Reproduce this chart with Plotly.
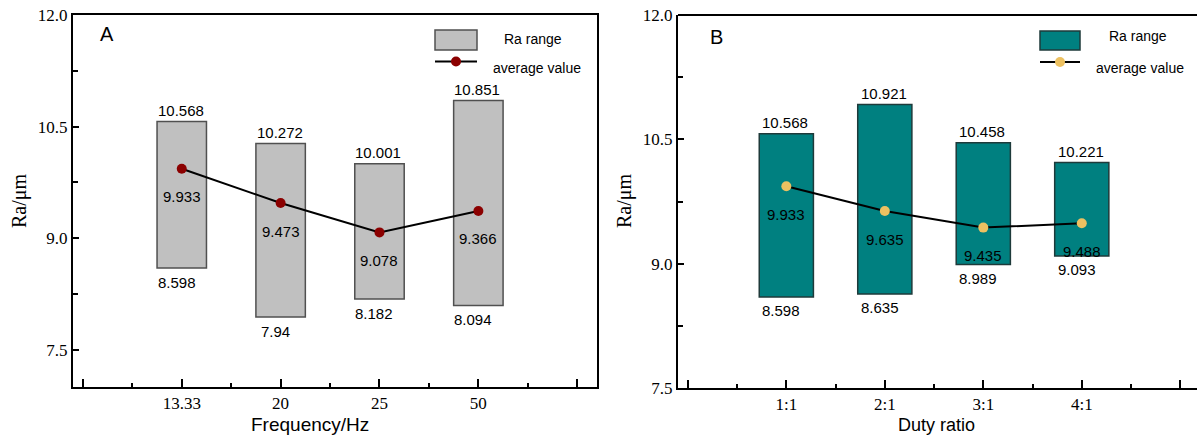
import plotly.graph_objects as go

W, H = 1197, 436

# ---------------- data ----------------
freq_labels = ["13.33", "20", "25", "50"]
freq_max = [10.568, 10.272, 10.001, 10.851]
freq_min = [8.598, 7.94, 8.182, 8.094]
freq_avg = [9.933, 9.473, 9.078, 9.366]

duty_labels = ["1:1", "2:1", "3:1", "4:1"]
duty_max = [10.568, 10.921, 10.458, 10.221]
duty_min = [8.598, 8.635, 8.989, 9.093]
duty_avg = [9.933, 9.635, 9.435, 9.488]

y_ticks = [7.5, 9.0, 10.5, 12.0]

SANS = "Arial, Liberation Sans, sans-serif"
SERIF = "Times New Roman, Liberation Serif, serif"


def px(x):
    return x / W


def py(y):
    return 1 - y / H


fig = go.Figure()

panels = [
    dict(labels=freq_labels, mx=freq_max, mn=freq_min, av=freq_avg, xa="x", ya="y",
         fill="#C0C0C0", edge="#505050", mcol="#8B0000", width=0.5),
    dict(labels=duty_labels, mx=duty_max, mn=duty_min, av=duty_avg, xa="x2", ya="y2",
         fill="#008080", edge="#1E3A3A", mcol="#EDC161", width=0.55),
]

annotations = []
for p in panels:
    pos = list(range(1, len(p["labels"]) + 1))
    fig.add_trace(go.Bar(
        x=pos, y=[a - b for a, b in zip(p["mx"], p["mn"])], base=p["mn"],
        width=p["width"], marker=dict(color=p["fill"], line=dict(color=p["edge"], width=1.5)),
        xaxis=p["xa"], yaxis=p["ya"], showlegend=False, hoverinfo="skip"))
    fig.add_trace(go.Scatter(
        x=pos, y=p["av"], mode="lines+markers",
        line=dict(color="black", width=2),
        marker=dict(color=p["mcol"], size=10),
        xaxis=p["xa"], yaxis=p["ya"], showlegend=False))
    for xi, hi, lo, av in zip(pos, p["mx"], p["mn"], p["av"]):
        fnt = dict(family=SANS, size=15, color="black")
        annotations.append(dict(x=xi, y=hi, xref=p["xa"], yref=p["ya"], text=f"{hi:g}",
                                showarrow=False, xanchor="center", yanchor="middle",
                                yshift=11, xshift=-1, font=fnt))
        annotations.append(dict(x=xi, y=lo, xref=p["xa"], yref=p["ya"], text=f"{lo:g}",
                                showarrow=False, xanchor="center", yanchor="middle",
                                yshift=-14, xshift=-5, font=fnt))
        annotations.append(dict(x=xi, y=av, xref=p["xa"], yref=p["ya"], text=f"{av:g}",
                                showarrow=False, xanchor="center", yanchor="middle",
                                yshift=-28, font=fnt))


def note(x, y, text, family, size, angle=0):
    return dict(x=px(x), y=py(y), xref="paper", yref="paper", text=text, showarrow=False,
                xanchor="center", yanchor="middle", textangle=angle,
                font=dict(family=family, size=size, color="black"))


# panel letters, axis titles
annotations += [
    note(107, 34, "A", SANS, 20),
    note(716, 37, "B", SANS, 20),
    note(19, 201, "Ra/μm", SERIF, 20, -90),
    note(624, 201, "Ra/μm", SERIF, 20, -90),
    note(310, 424, "Frequency/Hz", SANS, 19),
    note(936, 425, "Duty ratio", SANS, 18),
]

# manual legends
shapes = []
legends = [
    dict(rx=(435, 477), ry=(30, 50), fill="#C0C0C0", edge="#505050", ly=61.5, mcol="#8B0000",
         t1=(533, 39), t2=(537, 68)),
    dict(rx=(1040, 1080), ry=(31, 50), fill="#008080", edge="#1E3A3A", ly=62, mcol="#EDC161",
         t1=(1138, 36), t2=(1140, 68)),
]
for lg in legends:
    shapes.append(dict(type="rect", xref="paper", yref="paper",
                       x0=px(lg["rx"][0]), x1=px(lg["rx"][1]), y0=py(lg["ry"][1]), y1=py(lg["ry"][0]),
                       fillcolor=lg["fill"], line=dict(color=lg["edge"], width=1.5)))
    shapes.append(dict(type="line", xref="paper", yref="paper",
                       x0=px(lg["rx"][0]), x1=px(lg["rx"][1]), y0=py(lg["ly"]), y1=py(lg["ly"]),
                       line=dict(color="black", width=2)))
    cx = (lg["rx"][0] + lg["rx"][1]) / 2
    shapes.append(dict(type="circle", xref="paper", yref="paper",
                       x0=px(cx - 5), x1=px(cx + 5), y0=py(lg["ly"] + 5), y1=py(lg["ly"] - 5),
                       fillcolor=lg["mcol"], line=dict(color=lg["mcol"], width=0)))
    annotations.append(note(lg["t1"][0], lg["t1"][1], "Ra range", SANS, 14))
    annotations.append(note(lg["t2"][0], lg["t2"][1], "average value", SANS, 14))

# right panel top border (right edge is cut off in the reference)
shapes.append(dict(type="line", xref="paper", yref="paper", x0=px(678), x1=1, y0=py(15), y1=py(15),
                   line=dict(color="black", width=2)))


def xaxis_cfg(labels, rng, dom, mirror, anchor):
    return dict(domain=dom, range=rng, tickmode="array", anchor=anchor,
                tickvals=list(range(0, len(labels) + 2)),
                ticktext=[""] + labels + [""],
                ticks="inside", ticklen=8, tickwidth=1.5, tickcolor="black",
                minor=dict(tickmode="array", tickvals=[i + 0.5 for i in range(0, len(labels) + 1)],
                           ticks="inside", ticklen=4, tickwidth=1.5, tickcolor="black"),
                showline=True, linecolor="black", linewidth=2, mirror=mirror,
                showgrid=False, zeroline=False, automargin=False,
                tickfont=dict(family=SERIF, size=17, color="black"))


def yaxis_cfg(rng, dom, mirror, anchor):
    return dict(domain=dom, range=rng, tickmode="array", tickvals=y_ticks,
                ticktext=[f"{v:.1f}" for v in y_ticks],
                ticks="inside", ticklen=6, tickwidth=1.5, tickcolor="black",
                minor=dict(tickmode="array", tickvals=[8.25, 9.75, 11.25],
                           ticks="inside", ticklen=5, tickwidth=1.5, tickcolor="black"),
                showline=True, linecolor="black", linewidth=2, mirror=mirror,
                showgrid=False, zeroline=False, automargin=False, anchor=anchor,
                tickfont=dict(family=SERIF, size=17, color="black"))


fig.update_layout(
    width=W, height=H, margin=dict(l=0, r=0, t=0, b=0),
    template="none", paper_bgcolor="white", plot_bgcolor="white",
    showlegend=False, barmode="overlay",
    xaxis=xaxis_cfg(freq_labels, [-0.1, 5.2], [px(73), px(597)], True, "y"),
    yaxis=yaxis_cfg([7.0, 12.0], [py(387), py(15)], True, "x"),
    xaxis2=xaxis_cfg(duty_labels, [-0.1, 5.17], [px(678), 1], False, "y2"),
    yaxis2=yaxis_cfg([7.5, 12.0], [py(388), py(15)], False, "x2"),
    annotations=annotations, shapes=shapes,
)

fig.write_html("out.html")
